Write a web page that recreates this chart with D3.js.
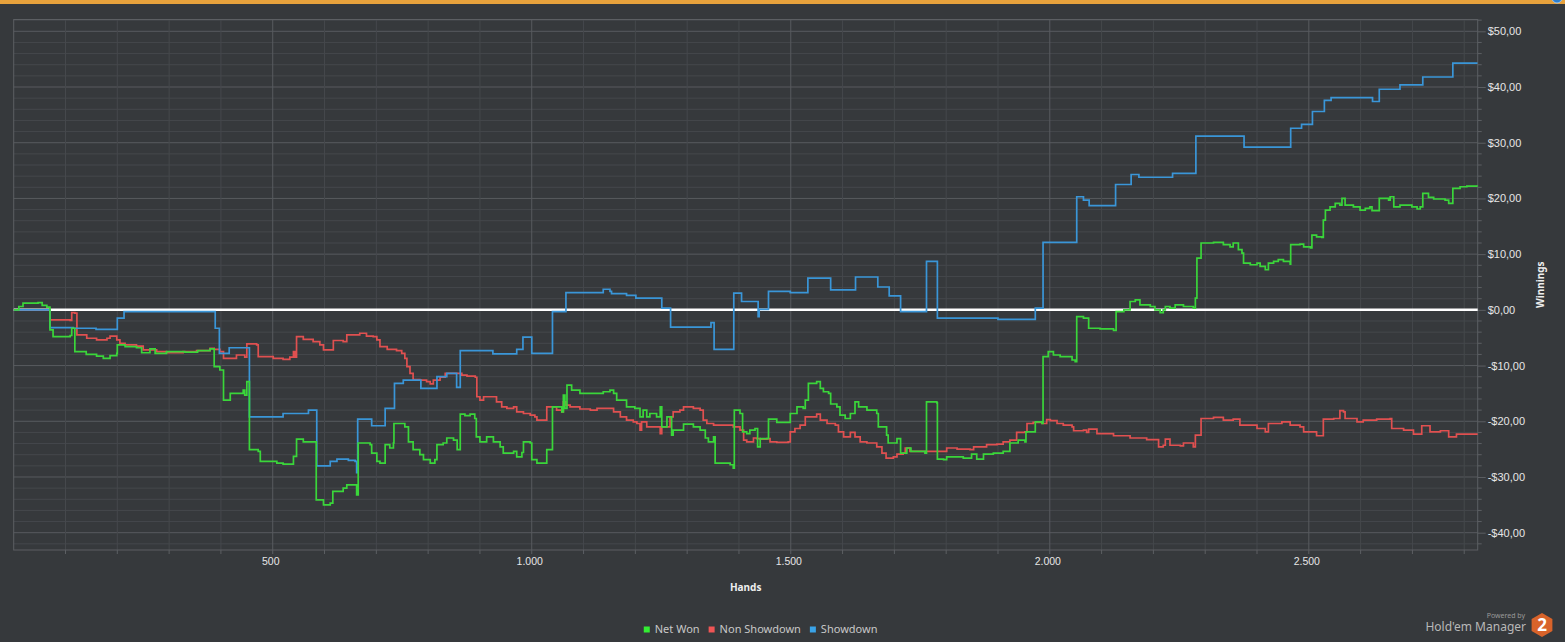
<!DOCTYPE html>
<html>
<head>
<meta charset="utf-8">
<script src="https://cdn.jsdelivr.net/npm/d3@7/dist/d3.min.js"></script>
<style>
  html, body { margin: 0; padding: 0; background: #36393c; overflow: hidden; }
  svg { display: block; font-family: "Noto Sans", "Open Sans", sans-serif; }
</style>
</head>
<body>
<svg width="1565" height="642"></svg>
<script>
// [hand, winnings] pairs
const netWon = [[0,0],[10,0.6],[18,1.2],[47,1.3],[55,0.8],[64,0.5],[70,-3.6],[76,-4.8],[109,-4.6],[112,-3.3],[118,-7.5],[140,-8.0],[160,-8.3],[173,-8.7],[186,-8.2],[199,-7.8],[200,-6.3],[215,-6.6],[237,-6.8],[247,-7.7],[263,-7.0],[273,-7.8],[295,-7.5],[330,-7.6],[355,-7.3],[379,-7.0],[387,-10.2],[398,-10.8],[405,-16.2],[418,-15.0],[443,-14.4],[446,-15.3],[450,-12.9],[455,-25.1],[472,-25.4],[476,-27.2],[508,-27.5],[520,-27.7],[540,-26.3],[546,-23.2],[559,-23.7],[578,-23.7],[584,-34.1],[598,-35.0],[611,-34.7],[616,-32.6],[636,-32.0],[643,-31.4],[659,-31.4],[662,-33.2],[665,-23.9],[688,-24.2],[691,-25.7],[701,-27.2],[707,-27.5],[717,-24.2],[726,-24.8],[733,-23.9],[734,-20.4],[746,-20.4],[755,-21.0],[762,-23.7],[771,-25.1],[784,-26.0],[791,-26.9],[804,-27.5],[813,-26.9],[817,-24.2],[829,-23.9],[836,-23.0],[849,-23.4],[856,-25.1],[862,-18.7],[871,-19.0],[881,-18.7],[890,-19.5],[893,-22.8],[900,-23.7],[913,-22.8],[926,-23.7],[939,-24.6],[945,-25.7],[965,-25.4],[971,-26.4],[981,-25.6],[984,-23.7],[997,-23.9],[1000,-26.9],[1010,-27.5],[1029,-25.1],[1040,-17.4],[1048,-17.4],[1058,-18.3],[1061,-15.3],[1064,-17.7],[1068,-13.5],[1077,-14.4],[1093,-15.0],[1126,-15.0],[1138,-14.7],[1151,-14.4],[1158,-15.0],[1164,-16.2],[1183,-17.4],[1199,-17.7],[1209,-19.2],[1215,-18.0],[1222,-19.2],[1228,-18.6],[1241,-19.2],[1248,-17.4],[1251,-21.0],[1261,-19.2],[1270,-22.5],[1273,-21.6],[1293,-20.5],[1312,-21.0],[1325,-21.6],[1335,-23.0],[1341,-23.7],[1351,-22.8],[1354,-27.5],[1383,-27.8],[1389,-28.4],[1391,-18.0],[1402,-18.6],[1407,-21.9],[1415,-22.2],[1421,-21.6],[1431,-21.3],[1436,-24.6],[1441,-23.1],[1454,-23.1],[1457,-19.6],[1473,-20.2],[1495,-20.2],[1499,-18.6],[1508,-18.6],[1512,-17.4],[1524,-17.7],[1528,-16.2],[1534,-13.2],[1550,-12.9],[1557,-14.1],[1563,-14.7],[1573,-15.0],[1577,-16.9],[1589,-17.4],[1595,-18.9],[1605,-19.5],[1615,-18.6],[1624,-16.5],[1631,-17.4],[1647,-18.0],[1666,-18.6],[1669,-21.0],[1685,-22.5],[1688,-23.9],[1701,-23.9],[1705,-23.1],[1712,-25.7],[1724,-24.8],[1732,-25.4],[1759,-25.7],[1762,-16.5],[1782,-16.7],[1783,-26.8],[1795,-26.9],[1801,-26.4],[1820,-26.4],[1833,-26.6],[1849,-25.9],[1859,-26.8],[1872,-25.9],[1891,-25.7],[1910,-25.4],[1923,-23.9],[1939,-23.4],[1952,-23.7],[1954,-21.9],[1968,-21.9],[1972,-20.1],[1985,-20.4],[1987,-8.4],[1997,-7.5],[2007,-8.1],[2020,-8.4],[2043,-9.0],[2049,-9.3],[2052,-1.2],[2065,-1.5],[2075,-3.3],[2097,-3.4],[2123,-3.7],[2128,-0.3],[2143,0.0],[2155,1.5],[2165,1.8],[2174,0.9],[2194,0.6],[2203,0.0],[2213,-0.5],[2219,0.0],[2223,0.6],[2232,0.3],[2242,0.9],[2258,0.6],[2277,0.3],[2281,2.1],[2284,9.3],[2292,12.0],[2316,12.1],[2335,11.7],[2348,11.3],[2354,12.0],[2364,10.8],[2371,10.2],[2374,8.4],[2387,8.1],[2400,8.4],[2406,7.8],[2416,7.2],[2422,8.4],[2432,8.7],[2441,9.0],[2451,8.7],[2464,8.2],[2465,11.7],[2483,11.8],[2490,11.3],[2503,11.1],[2506,13.4],[2515,13.1],[2525,13.0],[2528,16.1],[2532,17.9],[2541,18.5],[2551,19.1],[2560,18.8],[2564,20.0],[2570,18.8],[2586,18.5],[2599,17.9],[2609,18.2],[2618,18.5],[2622,17.8],[2636,20.0],[2654,19.7],[2657,20.3],[2664,18.5],[2676,18.8],[2699,18.5],[2709,18.1],[2715,18.5],[2720,20.9],[2731,20.2],[2741,19.9],[2763,19.7],[2770,19.1],[2778,21.8],[2792,22.1],[2805,22.2],[2826,22.4]];

const nonShowdown = [[0,0],[64,0],[70,-1.8],[109,-1.9],[112,-0.5],[118,-0.6],[122,-4.5],[141,-5.1],[160,-5.4],[180,-5.1],[186,-4.7],[199,-5.4],[205,-6.0],[215,-6.3],[237,-6.5],[250,-7.2],[276,-7.5],[295,-7.7],[327,-7.5],[353,-7.3],[379,-6.9],[387,-7.1],[398,-7.5],[405,-8.7],[430,-8.1],[446,-8.5],[450,-6.1],[469,-6.3],[472,-8.4],[501,-8.7],[520,-8.9],[533,-8.5],[540,-7.5],[543,-8.5],[546,-4.8],[559,-5.3],[578,-5.7],[591,-6.3],[598,-7.2],[614,-7.2],[617,-5.5],[636,-5.7],[643,-4.5],[668,-4.2],[681,-4.7],[694,-4.8],[701,-5.4],[707,-6.6],[721,-7.1],[739,-7.3],[749,-7.8],[755,-8.7],[759,-10.2],[765,-11.4],[771,-12.5],[784,-12.6],[797,-12.9],[804,-13.3],[810,-12.6],[823,-12.1],[833,-11.4],[858,-11.4],[865,-11.7],[875,-11.9],[891,-12.1],[894,-15.6],[900,-16.2],[907,-15.6],[923,-15.6],[932,-16.5],[942,-17.4],[952,-17.7],[965,-17.4],[971,-18.3],[984,-18.6],[997,-18.9],[1006,-19.2],[1010,-19.8],[1026,-19.8],[1029,-17.4],[1042,-17.4],[1048,-18.0],[1058,-18.3],[1061,-16.5],[1066,-17.1],[1074,-17.4],[1093,-17.8],[1113,-18.0],[1126,-17.7],[1145,-17.7],[1158,-18.3],[1171,-19.2],[1183,-19.8],[1196,-20.1],[1203,-20.4],[1209,-21.6],[1212,-20.1],[1222,-21.0],[1241,-21.0],[1248,-22.2],[1251,-21.0],[1267,-19.2],[1273,-18.3],[1286,-18.0],[1293,-17.4],[1312,-17.7],[1325,-18.0],[1331,-19.8],[1338,-20.4],[1351,-20.7],[1383,-20.7],[1389,-21.0],[1402,-21.6],[1409,-23.4],[1415,-23.7],[1428,-23.0],[1434,-23.1],[1441,-23.2],[1454,-23.1],[1460,-23.7],[1473,-23.8],[1495,-23.7],[1499,-21.9],[1508,-21.3],[1518,-20.7],[1528,-19.2],[1550,-18.7],[1557,-19.8],[1570,-20.4],[1586,-20.7],[1592,-21.9],[1602,-22.8],[1615,-22.0],[1624,-22.8],[1634,-23.7],[1647,-23.9],[1666,-24.6],[1676,-25.7],[1684,-26.6],[1698,-26.4],[1705,-25.9],[1717,-25.7],[1721,-24.8],[1730,-25.4],[1788,-25.4],[1801,-24.8],[1821,-25.0],[1846,-25.1],[1853,-24.6],[1878,-24.2],[1898,-24.1],[1910,-23.7],[1923,-23.4],[1936,-22.0],[1952,-21.9],[1956,-20.4],[1968,-20.2],[1985,-20.4],[1994,-19.7],[2001,-19.9],[2014,-20.4],[2026,-20.7],[2043,-21.0],[2046,-21.7],[2065,-21.6],[2071,-22.0],[2075,-21.4],[2091,-22.2],[2123,-22.6],[2155,-23.0],[2187,-23.3],[2210,-24.6],[2219,-24.3],[2223,-23.2],[2232,-24.3],[2252,-24.4],[2258,-23.9],[2277,-24.6],[2281,-22.5],[2292,-19.5],[2316,-19.3],[2335,-19.8],[2354,-19.6],[2367,-20.7],[2400,-21.3],[2412,-21.3],[2416,-21.9],[2422,-20.4],[2438,-20.4],[2448,-20.1],[2464,-20.7],[2483,-21.0],[2490,-21.9],[2515,-22.6],[2528,-19.6],[2548,-19.5],[2560,-18.1],[2567,-18.3],[2570,-19.5],[2593,-20.1],[2605,-19.8],[2631,-19.6],[2657,-19.5],[2660,-21.3],[2683,-21.6],[2702,-22.3],[2718,-20.8],[2734,-21.9],[2754,-21.7],[2770,-22.8],[2785,-22.3],[2826,-22.2]];

const showdown = [[0,0],[70,-3.2],[115,-3.3],[159,-3.5],[200,-1.5],[213,-0.3],[389,-3.3],[397,-7.8],[416,-6.8],[455,-19.2],[520,-18.6],[569,-18.0],[585,-28.0],[611,-27.2],[624,-26.8],[646,-27.0],[659,-27.2],[662,-29.2],[664,-19.6],[691,-20.8],[717,-17.7],[735,-13.2],[752,-12.6],[786,-14.1],[817,-12.0],[836,-11.4],[855,-13.9],[862,-7.3],[925,-7.9],[971,-7.1],[983,-4.9],[1000,-7.8],[1040,-0.3],[1066,3.1],[1138,3.7],[1151,3.3],[1154,2.9],[1183,2.6],[1201,2.1],[1251,0.3],[1268,-3.1],[1346,-2.3],[1352,-7.1],[1390,3.0],[1405,1.5],[1437,-1.2],[1439,0.1],[1457,3.3],[1499,3.1],[1533,5.7],[1577,3.6],[1625,5.9],[1668,4.1],[1690,2.5],[1712,-0.3],[1762,8.7],[1783,-1.5],[1900,-1.7],[1972,0.3],[1987,12.1],[2052,20.3],[2065,19.7],[2076,18.7],[2127,22.5],[2157,24.3],[2172,23.8],[2237,24.5],[2282,31.2],[2375,29.2],[2465,32.6],[2486,33.3],[2507,35.6],[2530,37.6],[2543,38.1],[2623,37.4],[2636,39.6],[2676,40.4],[2720,41.8],[2778,44.3],[2826,44.3]];

const seriesNames = ["Net Won", "Non Showdown", "Showdown"];
const lineColors = ["#3ad63a", "#e05050", "#3a96d8"];
const legendColors = ["#33ee33", "#f05555", "#3aa3e8"];

const xTickValues = [500, 1000, 1500, 2000, 2500];
const xTickLabels = ["500", "1.000", "1.500", "2.000", "2.500"];
const yTickValues = [50, 40, 30, 20, 10, 0, -10, -20, -30, -40];
const yTickLabels = ["$50,00", "$40,00", "$30,00", "$20,00", "$10,00", "$0,00", "-$10,00", "-$20,00", "-$30,00", "-$40,00"];

const svg = d3.select('svg');
const W = 1565, H = 642;
const plotLeft = 13.7, plotRight = 1477.7, plotTop = 19.5, plotBottom = 550;

const x = d3.scaleLinear().domain([0, 2826]).range([plotLeft, plotRight]);
const y = d3.scaleLinear().domain([-40, 50]).range([532.7, 31.3]);

// top orange strip
svg.append('rect').attr('x', 0).attr('y', 0).attr('width', W).attr('height', 4).attr('fill', '#e8a23c');
svg.append('circle').attr('cx', 1557).attr('cy', -2).attr('r', 5).attr('fill', '#2d7fd0').attr('stroke', '#9cc6ee').attr('stroke-width', 1);

svg.append('defs').append('clipPath').attr('id', 'plotClip')
    .append('rect')
    .attr('x', plotLeft).attr('y', plotTop)
    .attr('width', plotRight - plotLeft).attr('height', plotBottom - plotTop);

// grid: minor every 2$ / 100 hands, major every 10$ / 500 hands
const grid = svg.append('g');
const yMinor = d3.range(-42, 53, 2);
grid.selectAll('line.hy').data(yMinor).join('line')
    .attr('x1', plotLeft).attr('x2', plotRight)
    .attr('y1', d => y(d)).attr('y2', d => y(d))
    .attr('stroke', d => d % 10 === 0 ? '#585b5f' : '#45484c')
    .attr('stroke-width', 1);
const xMinor = d3.range(100, 2826, 100);
grid.selectAll('line.vx').data(xMinor).join('line')
    .attr('x1', d => x(d)).attr('x2', d => x(d))
    .attr('y1', plotTop).attr('y2', plotBottom)
    .attr('stroke', d => d % 500 === 0 ? '#585b5f' : '#45484c')
    .attr('stroke-width', 1);

svg.append('rect')
    .attr('x', plotLeft).attr('y', plotTop)
    .attr('width', plotRight - plotLeft).attr('height', plotBottom - plotTop)
    .attr('fill', 'none').attr('stroke', '#5c5f63').attr('stroke-width', 1);

// y axis on right
const yAxis = d3.axisRight(y)
    .tickValues(yTickValues)
    .tickFormat((d, i) => yTickLabels[i])
    .tickSize(8)
    .tickPadding(2);
const yg = svg.append('g').attr('transform', `translate(${plotRight},0)`).call(yAxis);
yg.select('.domain').remove();
yg.selectAll('line').attr('stroke', '#5c5f63');
yg.selectAll('text').attr('fill', '#e6e6e6').style('font-size', '11px');

// minor y ticks
svg.append('g').selectAll('line').data(yMinor.filter(d => d % 10 !== 0 && d <= 52)).join('line')
    .attr('x1', plotRight).attr('x2', plotRight + 4)
    .attr('y1', d => y(d)).attr('y2', d => y(d))
    .attr('stroke', '#5c5f63');

// x axis
const xAxis = d3.axisBottom(x)
    .tickValues(xTickValues)
    .tickFormat((d, i) => xTickLabels[i])
    .tickSize(0)
    .tickPadding(8);
const xg = svg.append('g').attr('transform', `translate(0,${plotBottom})`).call(xAxis);
xg.select('.domain').remove();
xg.selectAll('text').attr('fill', '#e6e6e6').attr('dx', -2.5).style('font-size', '10.5px');

svg.append('g').selectAll('line').data(xMinor).join('line')
    .attr('x1', d => x(d)).attr('x2', d => x(d))
    .attr('y1', plotBottom).attr('y2', plotBottom + 4)
    .attr('stroke', '#5c5f63');

// axis titles
svg.append('text')
    .attr('x', (plotLeft + plotRight) / 2).attr('y', 591)
    .attr('text-anchor', 'middle')
    .attr('fill', '#eeeeee')
    .style('font-size', '10px').style('font-weight', 'bold')
    .text('Hands');

svg.append('text')
    .attr('transform', `translate(1544,${(plotTop + plotBottom) / 2}) rotate(-90)`)
    .attr('text-anchor', 'middle')
    .attr('fill', '#eeeeee')
    .style('font-size', '10px').style('font-weight', 'bold')
    .text('Winnings');

// zero line
svg.append('line')
    .attr('x1', plotLeft).attr('x2', plotRight)
    .attr('y1', y(0)).attr('y2', y(0))
    .attr('stroke', '#ffffff').attr('stroke-width', 2.5);

// series
const line = d3.line()
    .x(d => x(d[0]))
    .y(d => y(d[1]))
    .curve(d3.curveStepAfter);

const plot = svg.append('g').attr('clip-path', 'url(#plotClip)');
[nonShowdown, showdown, netWon].forEach((data, k) => {
    const idx = [1, 2, 0][k];
    plot.append('path')
        .datum(data)
        .attr('d', line)
        .attr('fill', 'none')
        .attr('stroke', lineColors[idx])
        .attr('stroke-width', 1.7)
        .attr('stroke-linejoin', 'miter');
});

// legend
const legend = svg.append('g');
let lx = 0;
seriesNames.forEach((name, i) => {
    const item = legend.append('g').attr('transform', `translate(${lx},0)`);
    item.append('rect').attr('x', 0).attr('y', -3).attr('width', 6).attr('height', 6).attr('fill', legendColors[i]);
    const t = item.append('text')
        .attr('x', 11).attr('y', 0).attr('dy', '0.35em')
        .attr('fill', '#c8c8c8')
        .style('font-size', '11px')
        .text(name);
    lx += 11 + t.node().getComputedTextLength() + 9;
});
const legendWidth = lx - 9;
legend.attr('transform', `translate(${760.6 - legendWidth / 2},629.5)`);

// powered by
svg.append('text')
    .attr('x', 1525).attr('y', 618)
    .attr('text-anchor', 'end')
    .attr('fill', '#9a9a9a')
    .style('font-size', '7px')
    .text('Powered by');
svg.append('text')
    .attr('x', 1526).attr('y', 631)
    .attr('text-anchor', 'end')
    .attr('fill', '#b8b8b8')
    .style('font-size', '12px')
    .text("Hold'em Manager");

const hexR = 12, hexCx = 1542, hexCy = 625;
const hexPts = d3.range(6).map(i => {
    const a = Math.PI / 3 * i - Math.PI / 2;
    return [hexCx + hexR * Math.cos(a), hexCy + hexR * Math.sin(a)];
});
svg.append('path')
    .attr('d', d3.line()(hexPts) + 'Z')
    .attr('fill', '#d8632a');
svg.append('text')
    .attr('x', hexCx).attr('y', hexCy + 6)
    .attr('text-anchor', 'middle')
    .attr('fill', '#ffffff')
    .style('font-size', '17px').style('font-weight', 'bold')
    .text('2');
</script>
</body>
</html>
